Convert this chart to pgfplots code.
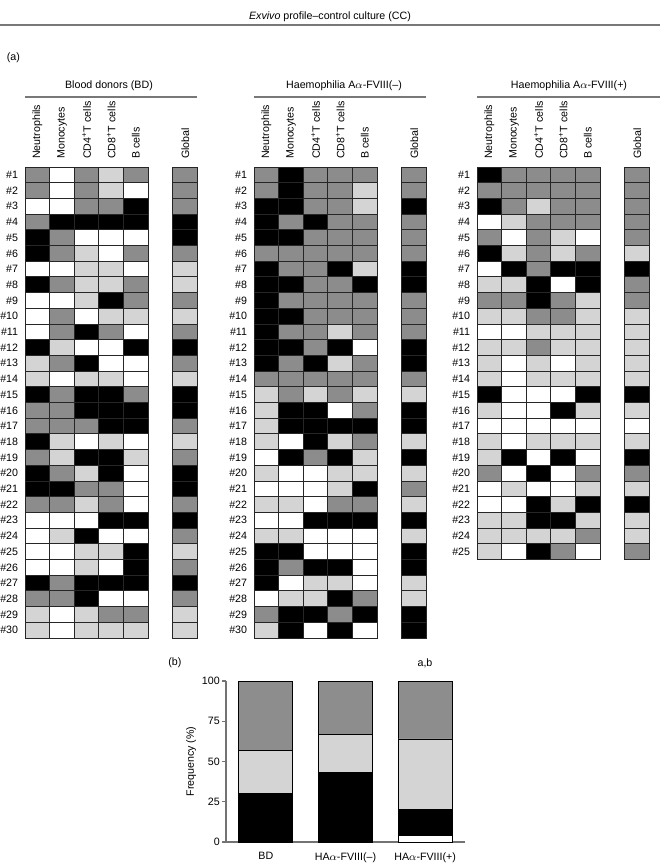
\documentclass[border=0pt]{standalone}
\usepackage{fontspec}
\setmainfont{Liberation Sans}
\usepackage{pgfplots}
\usepackage{pgfplotstable}
\pgfplotsset{compat=1.18}

\definecolor{lev0}{RGB}{255,255,255}
\definecolor{lev1}{RGB}{212,212,212}
\definecolor{lev2}{RGB}{141,141,141}
\definecolor{lev3}{RGB}{0,0,0}
\definecolor{rule}{RGB}{120,120,120}

% one heat-map cell, 24.6 x 15.7 px
\pgfdeclareplotmark{cell}{%
  \pgfpathrectangle{\pgfqpoint{-9.24pt}{-5.89pt}}{\pgfqpoint{18.48pt}{11.78pt}}%
  \pgfusepathqfillstroke}

% levels: 0 white, 1 light grey, 2 grey, 3 black
\pgfplotstableread{
r n m c4 c8 b g
1 2 0 2 1 2 2
2 2 0 2 1 0 2
3 0 0 2 2 3 2
4 2 3 3 3 3 3
5 3 2 0 0 0 3
6 3 2 1 0 2 2
7 0 0 1 1 0 1
8 3 2 1 1 2 1
9 0 0 1 3 2 2
10 0 2 0 1 1 1
11 0 2 3 2 0 2
12 3 1 0 0 3 3
13 1 2 3 0 0 2
14 1 0 1 1 0 1
15 3 2 3 3 2 3
16 2 2 3 3 3 3
17 2 2 2 3 3 2
18 3 1 0 1 0 1
19 2 1 3 3 1 2
20 3 2 1 3 0 3
21 3 3 2 2 0 3
22 2 2 1 2 0 2
23 0 0 0 3 3 3
24 0 1 3 0 0 2
25 0 0 1 1 3 1
26 0 0 1 0 3 2
27 3 2 3 3 3 3
28 2 2 3 0 0 2
29 1 0 1 2 2 1
30 1 0 1 1 1 1
}\bd

\pgfplotstableread{
r n m c4 c8 b g
1 2 3 2 2 2 2
2 2 3 2 2 1 2
3 3 3 2 2 1 3
4 3 2 3 2 2 2
5 3 3 2 2 2 2
6 2 2 2 2 2 2
7 3 2 2 3 1 3
8 3 3 2 2 3 3
9 3 2 2 2 2 2
10 3 3 2 2 2 2
11 3 2 2 1 2 2
12 3 3 2 3 0 3
13 3 2 3 1 2 3
14 2 2 2 2 2 2
15 1 2 1 2 1 1
16 1 3 3 0 2 3
17 1 3 3 3 3 3
18 1 0 3 1 2 1
19 0 3 2 3 1 3
20 1 0 0 1 1 1
21 0 0 0 1 3 2
22 1 1 0 2 2 1
23 0 0 3 3 3 3
24 1 1 0 0 0 1
25 3 3 0 0 0 3
26 3 2 3 3 0 3
27 3 0 1 1 0 1
28 0 1 1 3 2 1
29 2 3 3 2 3 3
30 1 3 0 3 0 3
}\hamin

\pgfplotstableread{
r n m c4 c8 b g
1 3 2 2 2 2 2
2 2 2 2 2 2 2
3 3 2 1 2 2 2
4 0 1 2 2 2 2
5 2 0 2 1 0 2
6 3 1 2 1 2 1
7 0 3 2 3 3 3
8 1 1 3 0 3 2
9 2 2 3 2 1 2
10 1 1 2 2 1 1
11 0 0 1 1 1 1
12 1 1 2 1 1 1
13 1 0 1 0 1 1
14 1 0 1 1 1 1
15 3 0 0 0 3 3
16 1 0 0 3 1 1
17 0 0 0 0 0 0
18 1 0 1 1 1 1
19 1 3 0 3 0 3
20 2 0 3 0 2 2
21 0 1 0 0 1 1
22 0 0 3 1 3 3
23 1 1 3 3 1 1
24 1 1 1 1 2 1
25 1 0 3 2 0 2
}\haplus

\pgfplotsset{
  heat/.style={
    scale only axis, anchor=north west,
    width=129.4pt, xmin=-0.5, xmax=6.5, ymin=0.5,
    y dir=reverse, clip=false,
    axis line style={draw=none}, major tick length=0pt,
    xtick={0,1,2,3,4,6},
    xticklabels={Neutrophils,Monocytes,CD4\textsuperscript{+}T cells,CD8\textsuperscript{+}T cells,B cells,Global},
    xticklabel pos=upper,
    xticklabel style={rotate=90, anchor=west, inner sep=0pt, xshift=6pt},
    ytick={1,...,30},
    yticklabel={\#\pgfmathprintnumber[assume math mode=true]{\tick}},
    yticklabel style={anchor=east, inner sep=0pt, xshift=-5pt},
    colormap={levels}{rgb255=(255,255,255) rgb255=(212,212,212) rgb255=(141,141,141) rgb255=(0,0,0)},
    point meta min=0, point meta max=3,
  },
  cells/.style={only marks, scatter, mark=cell,
    scatter/use mapped color={draw=black!85, fill=mapped color},
    mark options={line width=0.75pt}},
}

\newcommand{\panel}[1]{%
  \addplot[cells, point meta=\thisrow{n}] table[x expr=0, y=r] {#1};
  \addplot[cells, point meta=\thisrow{m}] table[x expr=1, y=r] {#1};
  \addplot[cells, point meta=\thisrow{c4}] table[x expr=2, y=r] {#1};
  \addplot[cells, point meta=\thisrow{c8}] table[x expr=3, y=r] {#1};
  \addplot[cells, point meta=\thisrow{b}] table[x expr=4, y=r] {#1};
  \addplot[cells, point meta=\thisrow{g}] table[x expr=6, y=r] {#1};
}

\begin{document}
\fontsize{8pt}{9.6pt}\selectfont
\begin{tikzpicture}
\useasboundingbox (0,0) rectangle (495pt,-648.75pt);

\node at (247.5pt,-12.75pt) {\textit{Exvivo} profile--control culture (CC)};
\draw[rule, line width=1.1pt] (0pt,-18.75pt) -- (495pt,-18.75pt);
\node[anchor=west, inner sep=0pt] at (5pt,-43.5pt) {(a)};

\node at (81.75pt,-64.5pt) {Blood donors (BD)};
\node at (258pt,-64.5pt) {Haemophilia A$\alpha$-FVIII(--)};
\node at (426.75pt,-64.5pt) {Haemophilia A$\alpha$-FVIII(+)};
\draw[rule, line width=1.1pt] (18.75pt,-72.75pt) -- (147.75pt,-72.75pt);
\draw[rule, line width=1.1pt] (190.5pt,-72.75pt) -- (319.5pt,-72.75pt);
\draw[rule, line width=1.1pt] (357.75pt,-72.75pt) -- (495pt,-72.75pt);

% blood donors
\begin{axis}[heat, at={(18.75pt,-125.25pt)}, ymax=30.5, height=353.25pt]
\panel{\bd}
\end{axis}

% haemophilia A FVIII(-)
\begin{axis}[heat, at={(190.5pt,-125.25pt)}, ymax=30.5, height=353.25pt]
\panel{\hamin}
\end{axis}

% haemophilia A FVIII(+)
\begin{axis}[heat, at={(357.75pt,-125.25pt)}, ymax=25.5, height=294.4pt,
  ytick={1,...,25}]
\panel{\haplus}
\end{axis}

% (b) frequency of global profiles
\node[anchor=west, inner sep=0pt] at (126pt,-497.25pt) {(b)};
\node at (318.75pt,-497.25pt) {a,b};
\begin{axis}[
  scale only axis, at={(169.5pt,-631.5pt)}, anchor=south west,
  width=179.25pt, height=120.75pt,
  xmin=-0.5, xmax=2.5, ymin=0, ymax=100,
  axis x line=bottom, axis y line=left,
  axis line style={-, black!55, line width=0.9pt},
  ybar stacked, bar width=40.5pt,
  ytick={0,25,50,75,100},
  xtick={0,1,2},
  xticklabels={BD, HA$\alpha$-FVIII(--), HA$\alpha$-FVIII(+)},
  x tick style={draw=none},
  y tick style={black!55, line width=0.8pt},
  tick align=outside, major tick length=3pt,
  yticklabel style={inner sep=1.5pt},
  xticklabel style={yshift=-2pt},
  ylabel={Frequency (\%)},
  ylabel style={yshift=0pt},
  /pgf/number format/assume math mode=true,
]
\addplot[fill=white, draw=black, line width=0.6pt] coordinates {(0,0) (1,0) (2,4)};
\addplot[fill=black, draw=black, line width=0.6pt] coordinates {(0,30) (1,43.33) (2,16)};
\addplot[fill=lev1, draw=black, line width=0.6pt] coordinates {(0,26.67) (1,23.33) (2,44)};
\addplot[fill=lev2, draw=black, line width=0.6pt] coordinates {(0,43.33) (1,33.34) (2,36)};
\end{axis}
\end{tikzpicture}
\end{document}
